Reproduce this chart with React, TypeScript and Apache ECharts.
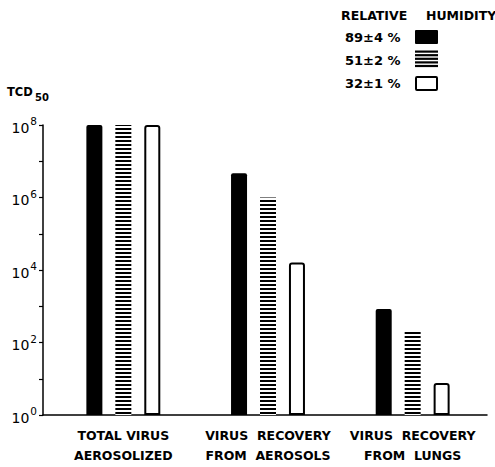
import React, { useEffect, useRef } from "react";
import * as echarts from "echarts";

const categories = [
  "TOTAL VIRUS\nAEROSOLIZED",
  "VIRUS  RECOVERY\nFROM  AEROSOLS",
  "VIRUS  RECOVERY\nFROM  LUNGS",
];
const rh89 = [1e8, 4.7e6, 840];
const rh51 = [1e8, 1e6, 195];
const rh32 = [1e8, 1.6e4, 7.6];
const seriesNames = ["89±4 %", "51±2 %", "32±1 %"];
const legendTitle = ["RELATIVE", "HUMIDITY"];
const yTitle = ["TCD", "50"];
const yMin = 1;
const yMax = 1e8;

const FONT = "DejaVu Sans";

export default function App() {
  const ref = useRef<HTMLDivElement>(null);
  useEffect(() => {
    if (!ref.current) return;
    const chart = echarts.init(ref.current, undefined, { renderer: "svg" });
    const stripeRects: any[] = [];
    for (let i = 0; i < 5; i++) {
      stripeRects.push({
        type: "rect",
        shape: { x: 415, y: 50.5 + i * 3.6, width: 23, height: 2.2 },
        style: { fill: "#000" },
      });
    }
    const option: any = {
      animation: false,
      backgroundColor: "#fff",
      grid: [
        { left: 43, right: 8, top: 125, bottom: 52 },
        { left: 51, right: 10, top: 125, bottom: 52 },
      ],
      xAxis: [
        {
          type: "category",
          gridIndex: 0,
          data: categories,
          axisLine: { show: true, lineStyle: { color: "#000", width: 1.5 } },
          axisTick: { show: false },
          axisLabel: { show: false },
          splitLine: { show: false },
        },
        {
          type: "category",
          gridIndex: 1,
          data: categories,
          axisLine: { show: false },
          axisTick: { show: false },
          splitLine: { show: false },
          axisLabel: {
            interval: 0,
            margin: 10,
            color: "#000",
            fontFamily: FONT,
            fontWeight: "bold",
            fontSize: 12.5,
            lineHeight: 20,
          },
        },
      ],
      yAxis: [
        {
          type: "log",
          gridIndex: 0,
          min: yMin,
          max: yMax,
          logBase: 10,
          interval: 1,
          axisLine: { show: true, lineStyle: { color: "#000", width: 1.5 } },
          axisTick: { show: true, inside: false, length: 4, lineStyle: { color: "#000", width: 1.2 } },
          splitLine: { show: false },
          axisLabel: {
            margin: 6,
            formatter: (v: number) => {
              const e = Math.round(Math.log10(v));
              if (e % 2 !== 0) return "";
              return "{b|10}{s|" + e + "}";
            },
            rich: {
              b: { fontFamily: FONT, fontSize: 14, color: "#000", verticalAlign: "bottom" },
              s: { fontFamily: FONT, fontSize: 10.5, color: "#000", verticalAlign: "bottom", padding: [0, 0, 8, 1] },
            },
          },
        },
        {
          type: "log",
          gridIndex: 1,
          min: yMin,
          max: yMax,
          logBase: 10,
          show: false,
          splitLine: { show: false },
        },
      ],
      series: [
        {
          name: seriesNames[0],
          type: "bar",
          xAxisIndex: 1,
          yAxisIndex: 1,
          data: rh89,
          barWidth: 16,
          barGap: "81%",
          itemStyle: { color: "#000", borderRadius: [2, 2, 0, 0] },
        },
        {
          name: seriesNames[1],
          type: "bar",
          xAxisIndex: 1,
          yAxisIndex: 1,
          data: rh51,
          barWidth: 16,
          barGap: "81%",
          itemStyle: {
            color: "#fff",
            decal: {
              symbol: "rect",
              symbolSize: 1,
              color: "#000",
              backgroundColor: "#fff",
              dashArrayX: [1, 0],
              dashArrayY: [2, 1.7],
              rotation: 0,
            },
          },
        },
        {
          name: seriesNames[2],
          type: "bar",
          xAxisIndex: 1,
          yAxisIndex: 1,
          data: rh32,
          barWidth: 16,
          barGap: "81%",
          itemStyle: { color: "#fff", borderColor: "#000", borderWidth: 2, borderRadius: [2, 2, 0, 0] },
        },
      ],
      graphic: [
        {
          type: "text",
          x: 7,
          y: 92,
          style: { text: yTitle[0], font: `bold 11.5px "${FONT}"`, fill: "#000", verticalAlign: "middle" },
        },
        {
          type: "text",
          x: 35,
          y: 97,
          style: { text: yTitle[1], font: `bold 10px "${FONT}"`, fill: "#000", verticalAlign: "middle" },
        },
        {
          type: "text",
          x: 341,
          y: 15,
          style: { text: legendTitle[0], font: `bold 12.5px "${FONT}"`, fill: "#000", verticalAlign: "middle" },
        },
        {
          type: "text",
          x: 426,
          y: 15,
          style: { text: legendTitle[1], font: `bold 12.5px "${FONT}"`, fill: "#000", verticalAlign: "middle" },
        },
        {
          type: "text",
          x: 345,
          y: 37,
          style: { text: seriesNames[0], font: `bold 13px "${FONT}"`, fill: "#000", verticalAlign: "middle" },
        },
        {
          type: "text",
          x: 345,
          y: 60,
          style: { text: seriesNames[1], font: `bold 13px "${FONT}"`, fill: "#000", verticalAlign: "middle" },
        },
        {
          type: "text",
          x: 345,
          y: 83,
          style: { text: seriesNames[2], font: `bold 13px "${FONT}"`, fill: "#000", verticalAlign: "middle" },
        },
        {
          type: "rect",
          shape: { x: 415, y: 30, width: 23, height: 14, r: 1 },
          style: { fill: "#000" },
        },
        ...stripeRects,
        {
          type: "rect",
          shape: { x: 416, y: 77, width: 21, height: 13, r: 1 },
          style: { fill: "#fff", stroke: "#000", lineWidth: 2 },
        },
      ],
    };
    chart.setOption(option);
    return () => chart.dispose();
  }, []);
  return (
    <div
      ref={ref}
      style={{ position: "absolute", left: 0, top: 0, width: 495, height: 467 }}
    />
  );
}
